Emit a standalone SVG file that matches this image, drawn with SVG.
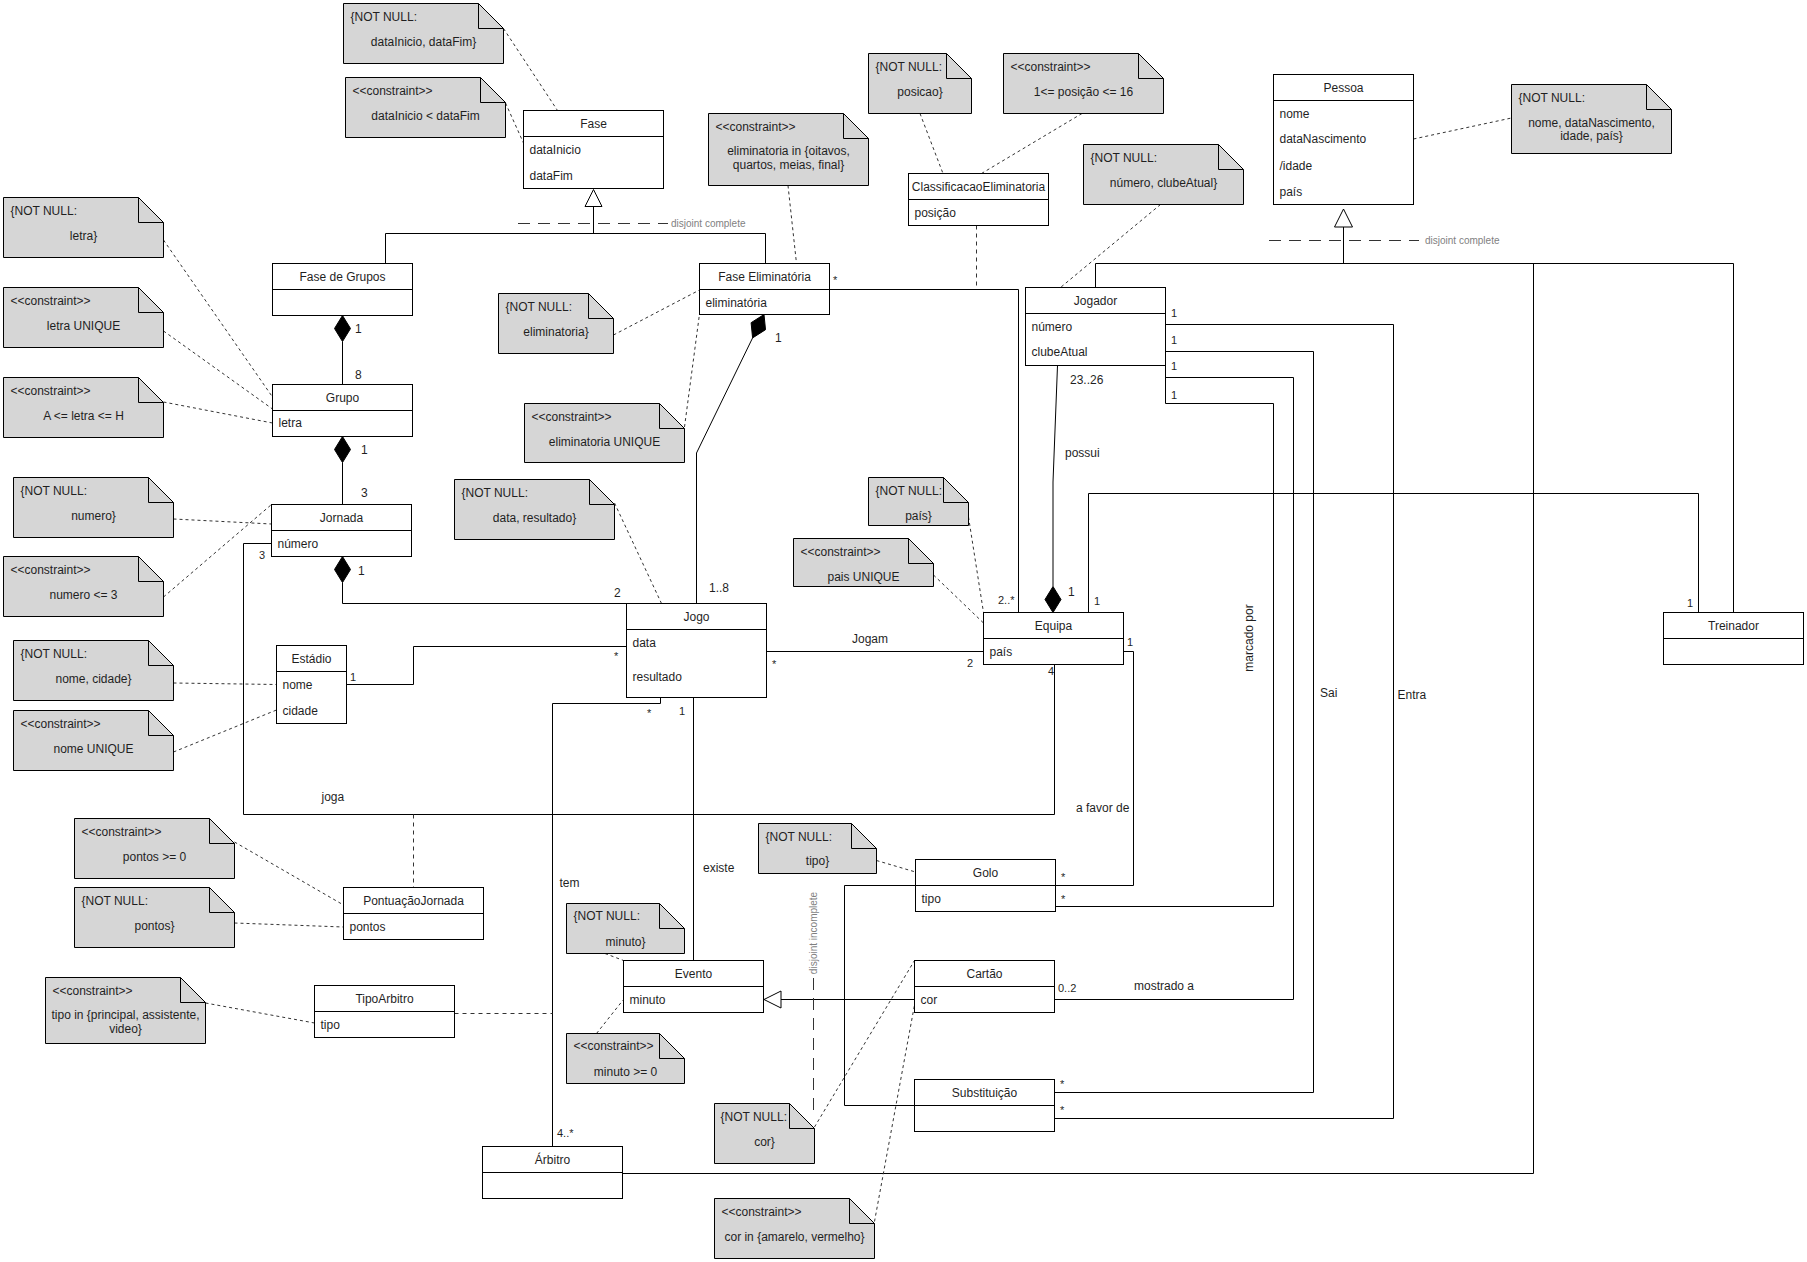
<svg xmlns="http://www.w3.org/2000/svg" width="1807" height="1262" viewBox="0 0 1807 1262">
<style>
text{font-family:"Liberation Sans",Arial,sans-serif;font-size:12px;fill:#1f1f1f}
.c{text-anchor:middle}
.s{font-size:11px}
.g{font-size:10px;fill:#7f7f7f}
.box{fill:#fff;stroke:#000;stroke-width:1}
.note{fill:#d6d6d6;stroke:#000;stroke-width:1}
.ln{fill:none;stroke:#000;stroke-width:1}
.dot{fill:none;stroke:#333;stroke-width:1;stroke-dasharray:3 3}
.dash{fill:none;stroke:#333;stroke-width:1;stroke-dasharray:4 4}
.gen{fill:none;stroke:#333;stroke-width:1;stroke-dasharray:12 8}
.hollow{fill:#fff;stroke:#000;stroke-width:1}
.solid{fill:#000;stroke:#000;stroke-width:1}
</style>
<rect x="0" y="0" width="1807" height="1262" fill="#fff"/>

<g id="connectors">
<path class="ln" d="M593.5 206.5 V233.5 M385.5 233.5 H765.5 M385.5 233.5 V263.5 M765.5 233.5 V263.5"/>
<polygon class="hollow" points="593.5,189.5 585,206.5 602,206.5"/>
<line class="gen" x1="518" y1="223.5" x2="668" y2="223.5"/>
<text class="g" x="671" y="226.5">disjoint complete</text>

<path class="ln" d="M342.5 341.5 V384.5"/>
<polygon class="solid" points="342.5,315.5 350.5,328.5 342.5,341.5 334.5,328.5"/>
<text x="355" y="333">1</text><text x="355" y="379">8</text>

<path class="ln" d="M342.5 462.5 V504.5"/>
<polygon class="solid" points="342.5,436.5 350.5,449.5 342.5,462.5 334.5,449.5"/>
<text x="361" y="454">1</text><text x="361" y="497">3</text>

<path class="ln" d="M342.5 582.5 V603.5 H626.5"/>
<polygon class="solid" points="342.5,556.5 350.5,569.5 342.5,582.5 334.5,569.5"/>
<text x="358" y="575">1</text><text x="614" y="597">2</text>

<path class="ln" d="M752.6 337.9 L696.5 453 V603.5"/>
<polygon class="solid" points="764,314.5 765.5,329.7 752.6,337.9 751.1,322.7"/>
<text x="775" y="342">1</text><text x="709" y="592">1..8</text>

<path class="ln" d="M346.5 684.5 H413.5 V646.5 H626.5"/>
<text class="s" x="350" y="681">1</text><text class="s" x="614" y="660">*</text>

<path class="ln" d="M271.5 543.5 H243.5 V814.5 H1054.5 V664.5"/>
<text class="s" x="259" y="559">3</text><text class="s" x="1048" y="675">4</text>
<text x="321.5" y="801">joga</text>

<path class="ln" d="M766.5 651.5 H983.5"/>
<text class="c" x="870" y="643">Jogam</text>
<text class="s" x="772" y="668">*</text><text class="s" x="967" y="667">2</text>

<path class="ln" d="M829.5 289.5 H1018.5 V612.5"/>
<path class="dash" d="M976.5 225.5 V289.5"/>
<text class="s" x="833" y="284">*</text><text class="s" x="998" y="604">2..*</text>

<path class="ln" d="M1057.5 365.5 L1053 482 V586.5"/>
<polygon class="solid" points="1053,586.5 1061,599.5 1053,612.5 1045,599.5"/>
<text x="1070" y="384">23..26</text><text x="1065" y="457">possui</text><text x="1068" y="596">1</text>

<path class="ln" d="M1088.5 612.5 V493.5 H1698.5 V612.5"/>
<text class="s" x="1094" y="605">1</text><text class="s" x="1687" y="607">1</text>

<path class="ln" d="M1343.5 227 V263.5 M1095.5 287.5 V263.5 H1733.5 V612.5 M1533.5 263.5 V1173.5 H622.5"/>
<polygon class="hollow" points="1343.5,209 1334.5,227 1352.5,227"/>
<line class="gen" x1="1269" y1="240.5" x2="1419" y2="240.5"/>
<text class="g" x="1425" y="244">disjoint complete</text>

<path class="ln" d="M1165.5 365.5 V403.5"/>
<path class="ln" d="M1165.5 324.5 H1393.5 V1118.5 H1054.5"/>
<path class="ln" d="M1165.5 351.5 H1313.5 V1092.5 H1054.5"/>
<path class="ln" d="M1165.5 377.5 H1293.5 V999.5 H1054.5"/>
<path class="ln" d="M1165.5 403.5 H1273.5 V906.5 H1055.5"/>
<text class="s" x="1171" y="317">1</text><text class="s" x="1171" y="344">1</text>
<text class="s" x="1171" y="370">1</text><text class="s" x="1171" y="399">1</text>
<text x="1397.5" y="699">Entra</text><text x="1320" y="697">Sai</text>
<text class="s" x="1060" y="1088">*</text><text class="s" x="1060" y="1114">*</text>
<text class="s" x="1058" y="992">0..2</text><text x="1134" y="990">mostrado a</text>
<text class="s" x="1061" y="903">*</text>
<text class="c" transform="translate(1252.5 638) rotate(-90)">marcado por</text>

<path class="ln" d="M1123.5 651.5 H1133.5 V885.5 H1055.5"/>
<text class="s" x="1127" y="646">1</text><text class="s" x="1061" y="881">*</text>
<text x="1076" y="812">a favor de</text>

<path class="ln" d="M660.5 697.5 V703.5 H552.5 V1146.5"/>
<path class="dash" d="M454.5 1013.5 H552.5"/>
<text class="s" x="647" y="717">*</text><text class="s" x="557" y="1137">4..*</text>
<text x="559.5" y="887">tem</text>

<path class="ln" d="M693.5 697.5 V960.5"/>
<text class="s" x="679" y="715">1</text><text x="703" y="872">existe</text>

<path class="ln" d="M781 999.5 H914.5 M844.5 885.5 V1105.5 M844.5 885.5 H915.5 M844.5 1105.5 H914.5"/>
<polygon class="hollow" points="764,999.5 781,991 781,1008"/>
<line class="gen" x1="813.5" y1="978" x2="813.5" y2="1110"/>
<text class="g c" transform="translate(816.5 933) rotate(-90)">disjoint incomplete</text>

<path class="dash" d="M413.5 814.5 V887.5"/>

<path class="dot" d="M503.5 28.5 L557.5 110.5"/>
<path class="dot" d="M505.5 103 L523.5 143"/>
<path class="dot" d="M163.5 240 L272.5 397"/>
<path class="dot" d="M163.5 331 L272.5 409"/>
<path class="dot" d="M163.5 402 L272.5 423"/>
<path class="dot" d="M173.5 519 L271.5 524"/>
<path class="dot" d="M163.5 597 L271.5 504.5"/>
<path class="dot" d="M173.5 683 L276.5 684.5"/>
<path class="dot" d="M173.5 752 L276.5 710"/>
<path class="dot" d="M234.5 842 L343.5 905"/>
<path class="dot" d="M234.5 923 L343.5 927"/>
<path class="dot" d="M205.5 1003 L314.5 1023"/>
<path class="dot" d="M613.5 335 L699.5 290"/>
<path class="dot" d="M684.5 427 L699.5 314"/>
<path class="dot" d="M614.5 503 L661.5 603.5"/>
<path class="dot" d="M788 185.5 L796.5 263.5"/>
<path class="dot" d="M920 113.5 L943 173.5"/>
<path class="dot" d="M1082 113.5 L981.5 173.5"/>
<path class="dot" d="M1160.5 204.5 L1060.5 287.5"/>
<path class="dot" d="M1413.5 139 L1511.5 118"/>
<path class="dot" d="M968.5 517 L983.5 612.5"/>
<path class="dot" d="M933.5 575 L983.5 623"/>
<path class="dot" d="M876.5 860.5 L915.5 872"/>
<path class="dot" d="M605 953.5 L623.5 960.5"/>
<path class="dot" d="M596.5 1033.5 L623.5 999.5"/>
<path class="dot" d="M814.5 1127 L914.5 960.5"/>
<path class="dot" d="M874.5 1221.5 L914.5 1005"/>
</g>

<g id="note-datas-notnull"><path class="note" d="M343.5 3.5 H478.5 L503.5 28.5 V63.5 H343.5 Z"/><path class="ln" d="M478.5 3.5 V28.5 H503.5"/><text x="350.5" y="20.5">{NOT NULL:</text><text class="c" x="423.5" y="45.5">dataInicio, dataFim}</text></g>
<g id="note-datas-constraint"><path class="note" d="M345.5 77.5 H480.5 L505.5 102.5 V137.5 H345.5 Z"/><path class="ln" d="M480.5 77.5 V102.5 H505.5"/><text x="352.5" y="94.5">&lt;&lt;constraint&gt;&gt;</text><text class="c" x="425.5" y="119.5">dataInicio &lt; dataFim</text></g>
<g id="note-letra-notnull"><path class="note" d="M3.5 197.5 H138.5 L163.5 222.5 V257.5 H3.5 Z"/><path class="ln" d="M138.5 197.5 V222.5 H163.5"/><text x="10.5" y="214.5">{NOT NULL:</text><text class="c" x="83.5" y="239.5">letra}</text></g>
<g id="note-letra-unique"><path class="note" d="M3.5 287.5 H138.5 L163.5 312.5 V347.5 H3.5 Z"/><path class="ln" d="M138.5 287.5 V312.5 H163.5"/><text x="10.5" y="304.5">&lt;&lt;constraint&gt;&gt;</text><text class="c" x="83.5" y="329.5">letra UNIQUE</text></g>
<g id="note-letra-range"><path class="note" d="M3.5 377.5 H138.5 L163.5 402.5 V437.5 H3.5 Z"/><path class="ln" d="M138.5 377.5 V402.5 H163.5"/><text x="10.5" y="394.5">&lt;&lt;constraint&gt;&gt;</text><text class="c" x="83.5" y="419.5">A &lt;= letra &lt;= H</text></g>
<g id="note-numero-notnull"><path class="note" d="M13.5 477.5 H148.5 L173.5 502.5 V537.5 H13.5 Z"/><path class="ln" d="M148.5 477.5 V502.5 H173.5"/><text x="20.5" y="494.5">{NOT NULL:</text><text class="c" x="93.5" y="519.5">numero}</text></g>
<g id="note-numero-range"><path class="note" d="M3.5 556.5 H138.5 L163.5 581.5 V616.5 H3.5 Z"/><path class="ln" d="M138.5 556.5 V581.5 H163.5"/><text x="10.5" y="573.5">&lt;&lt;constraint&gt;&gt;</text><text class="c" x="83.5" y="598.5">numero &lt;= 3</text></g>
<g id="note-estadio-notnull"><path class="note" d="M13.5 640.5 H148.5 L173.5 665.5 V700.5 H13.5 Z"/><path class="ln" d="M148.5 640.5 V665.5 H173.5"/><text x="20.5" y="657.5">{NOT NULL:</text><text class="c" x="93.5" y="682.5">nome, cidade}</text></g>
<g id="note-estadio-unique"><path class="note" d="M13.5 710.5 H148.5 L173.5 735.5 V770.5 H13.5 Z"/><path class="ln" d="M148.5 710.5 V735.5 H173.5"/><text x="20.5" y="727.5">&lt;&lt;constraint&gt;&gt;</text><text class="c" x="93.5" y="752.5">nome UNIQUE</text></g>
<g id="note-pontos-range"><path class="note" d="M74.5 818.5 H209.5 L234.5 843.5 V878.5 H74.5 Z"/><path class="ln" d="M209.5 818.5 V843.5 H234.5"/><text x="81.5" y="835.5">&lt;&lt;constraint&gt;&gt;</text><text class="c" x="154.5" y="860.5">pontos &gt;= 0</text></g>
<g id="note-pontos-notnull"><path class="note" d="M74.5 887.5 H209.5 L234.5 912.5 V947.5 H74.5 Z"/><path class="ln" d="M209.5 887.5 V912.5 H234.5"/><text x="81.5" y="904.5">{NOT NULL:</text><text class="c" x="154.5" y="929.5">pontos}</text></g>
<g id="note-tipoarbitro"><path class="note" d="M45.5 977.5 H180.5 L205.5 1002.5 V1043.5 H45.5 Z"/><path class="ln" d="M180.5 977.5 V1002.5 H205.5"/><text x="52.5" y="994.5">&lt;&lt;constraint&gt;&gt;</text><text class="c" x="125.5" y="1019">tipo in {principal, assistente,</text><text class="c" x="125.5" y="1033">video}</text></g>
<g id="note-elim-notnull"><path class="note" d="M498.5 293.5 H588.5 L613.5 318.5 V353.5 H498.5 Z"/><path class="ln" d="M588.5 293.5 V318.5 H613.5"/><text x="505.5" y="310.5">{NOT NULL:</text><text class="c" x="556" y="335.5">eliminatoria}</text></g>
<g id="note-elim-unique"><path class="note" d="M524.5 403.5 H659.5 L684.5 428.5 V462.5 H524.5 Z"/><path class="ln" d="M659.5 403.5 V428.5 H684.5"/><text x="531.5" y="420.5">&lt;&lt;constraint&gt;&gt;</text><text class="c" x="604.5" y="445.5">eliminatoria UNIQUE</text></g>
<g id="note-jogo-notnull"><path class="note" d="M454.5 479.5 H589.5 L614.5 504.5 V539.5 H454.5 Z"/><path class="ln" d="M589.5 479.5 V504.5 H614.5"/><text x="461.5" y="496.5">{NOT NULL:</text><text class="c" x="534.5" y="521.5">data, resultado}</text></g>
<g id="note-elim-in"><path class="note" d="M708.5 113.5 H843.5 L868.5 138.5 V185.5 H708.5 Z"/><path class="ln" d="M843.5 113.5 V138.5 H868.5"/><text x="715.5" y="130.5">&lt;&lt;constraint&gt;&gt;</text><text class="c" x="788.5" y="155">eliminatoria in {oitavos,</text><text class="c" x="788.5" y="169">quartos, meias, final}</text></g>
<g id="note-posicao-notnull"><path class="note" d="M868.5 53.5 H946.5 L971.5 78.5 V113.5 H868.5 Z"/><path class="ln" d="M946.5 53.5 V78.5 H971.5"/><text x="875.5" y="70.5">{NOT NULL:</text><text class="c" x="920" y="95.5">posicao}</text></g>
<g id="note-posicao-range"><path class="note" d="M1003.5 53.5 H1138.5 L1163.5 78.5 V113.5 H1003.5 Z"/><path class="ln" d="M1138.5 53.5 V78.5 H1163.5"/><text x="1010.5" y="70.5">&lt;&lt;constraint&gt;&gt;</text><text class="c" x="1083.5" y="95.5">1&lt;= posição &lt;= 16</text></g>
<g id="note-jogador-notnull"><path class="note" d="M1083.5 144.5 H1218.5 L1243.5 169.5 V204.5 H1083.5 Z"/><path class="ln" d="M1218.5 144.5 V169.5 H1243.5"/><text x="1090.5" y="161.5">{NOT NULL:</text><text class="c" x="1163.5" y="186.5">número, clubeAtual}</text></g>
<g id="note-pessoa-notnull"><path class="note" d="M1511.5 84.5 H1646.5 L1671.5 109.5 V153.5 H1511.5 Z"/><path class="ln" d="M1646.5 84.5 V109.5 H1671.5"/><text x="1518.5" y="101.5">{NOT NULL:</text><text class="c" x="1591.5" y="126.5">nome, dataNascimento,</text><text class="c" x="1591.5" y="140">idade, país}</text></g>
<g id="note-equipa-notnull"><path class="note" d="M868.5 477.5 H943.5 L968.5 502.5 V525.5 H868.5 Z"/><path class="ln" d="M943.5 477.5 V502.5 H968.5"/><text x="875.5" y="494.5">{NOT NULL:</text><text class="c" x="918.5" y="519.5">país}</text></g>
<g id="note-equipa-unique"><path class="note" d="M793.5 538.5 H908.5 L933.5 563.5 V586.5 H793.5 Z"/><path class="ln" d="M908.5 538.5 V563.5 H933.5"/><text x="800.5" y="555.5">&lt;&lt;constraint&gt;&gt;</text><text class="c" x="863.5" y="580.5">pais UNIQUE</text></g>
<g id="note-golo-notnull"><path class="note" d="M758.5 823.5 H851.5 L876.5 848.5 V873.5 H758.5 Z"/><path class="ln" d="M851.5 823.5 V848.5 H876.5"/><text x="765.5" y="840.5">{NOT NULL:</text><text class="c" x="817.5" y="865">tipo}</text></g>
<g id="note-minuto-notnull"><path class="note" d="M566.5 903.5 H659.5 L684.5 928.5 V953.5 H566.5 Z"/><path class="ln" d="M659.5 903.5 V928.5 H684.5"/><text x="573.5" y="920">{NOT NULL:</text><text class="c" x="625.5" y="946">minuto}</text></g>
<g id="note-minuto-range"><path class="note" d="M566.5 1033.5 H659.5 L684.5 1058.5 V1083.5 H566.5 Z"/><path class="ln" d="M659.5 1033.5 V1058.5 H684.5"/><text x="573.5" y="1050">&lt;&lt;constraint&gt;&gt;</text><text class="c" x="625.5" y="1076">minuto &gt;= 0</text></g>
<g id="note-cor-notnull"><path class="note" d="M714.5 1103.5 H789.5 L814.5 1128.5 V1163.5 H714.5 Z"/><path class="ln" d="M789.5 1103.5 V1128.5 H814.5"/><text x="720.5" y="1120.5">{NOT NULL:</text><text class="c" x="764.5" y="1145.5">cor}</text></g>
<g id="note-cor-in"><path class="note" d="M714.5 1198.5 H849.5 L874.5 1223.5 V1258.5 H714.5 Z"/><path class="ln" d="M849.5 1198.5 V1223.5 H874.5"/><text x="721.5" y="1215.5">&lt;&lt;constraint&gt;&gt;</text><text class="c" x="794.5" y="1240.5">cor in {amarelo, vermelho}</text></g>

<g id="fase"><rect class="box" x="523.5" y="110.5" width="140" height="78"/><line class="ln" x1="523.5" y1="136.5" x2="663.5" y2="136.5"/><text class="c" x="593.5" y="128">Fase</text><text x="529.5" y="154">dataInicio</text><text x="529.5" y="180">dataFim</text></g>
<g id="fase-de-grupos"><rect class="box" x="272.5" y="263.5" width="140" height="52"/><line class="ln" x1="272.5" y1="289.5" x2="412.5" y2="289.5"/><text class="c" x="342.5" y="281">Fase de Grupos</text></g>
<g id="grupo"><rect class="box" x="272.5" y="384.5" width="140" height="52"/><line class="ln" x1="272.5" y1="410.5" x2="412.5" y2="410.5"/><text class="c" x="342.5" y="402">Grupo</text><text x="278.5" y="427">letra</text></g>
<g id="jornada"><rect class="box" x="271.5" y="504.5" width="140" height="52"/><line class="ln" x1="271.5" y1="530.5" x2="411.5" y2="530.5"/><text class="c" x="341.5" y="522">Jornada</text><text x="277.5" y="548">número</text></g>
<g id="estadio"><rect class="box" x="276.5" y="645.5" width="70" height="78"/><line class="ln" x1="276.5" y1="671.5" x2="346.5" y2="671.5"/><text class="c" x="311.5" y="663">Estádio</text><text x="282.5" y="689">nome</text><text x="282.5" y="715">cidade</text></g>
<g id="jogo"><rect class="box" x="626.5" y="603.5" width="140" height="94"/><line class="ln" x1="626.5" y1="629.5" x2="766.5" y2="629.5"/><text class="c" x="696.5" y="621">Jogo</text><text x="632.5" y="647">data</text><text x="632.5" y="681">resultado</text></g>
<g id="fase-eliminatoria"><rect class="box" x="699.5" y="263.5" width="130" height="51"/><line class="ln" x1="699.5" y1="289.5" x2="829.5" y2="289.5"/><text class="c" x="764.5" y="281">Fase Eliminatória</text><text x="705.5" y="307">eliminatória</text></g>
<g id="classificacao-eliminatoria"><rect class="box" x="908.5" y="173.5" width="140" height="52"/><line class="ln" x1="908.5" y1="199.5" x2="1048.5" y2="199.5"/><text class="c" x="978.5" y="191">ClassificacaoEliminatoria</text><text x="914.5" y="217">posição</text></g>
<g id="jogador"><rect class="box" x="1025.5" y="287.5" width="140" height="78"/><line class="ln" x1="1025.5" y1="313.5" x2="1165.5" y2="313.5"/><text class="c" x="1095.5" y="305">Jogador</text><text x="1031.5" y="331">número</text><text x="1031.5" y="356">clubeAtual</text></g>
<g id="pessoa"><rect class="box" x="1273.5" y="74.5" width="140" height="130"/><line class="ln" x1="1273.5" y1="100.5" x2="1413.5" y2="100.5"/><text class="c" x="1343.5" y="92">Pessoa</text><text x="1279.5" y="118">nome</text><text x="1279.5" y="143">dataNascimento</text><text x="1279.5" y="170">/idade</text><text x="1279.5" y="196">país</text></g>
<g id="equipa"><rect class="box" x="983.5" y="612.5" width="140" height="52"/><line class="ln" x1="983.5" y1="638.5" x2="1123.5" y2="638.5"/><text class="c" x="1053.5" y="630">Equipa</text><text x="989.5" y="656">país</text></g>
<g id="treinador"><rect class="box" x="1663.5" y="612.5" width="140" height="52"/><line class="ln" x1="1663.5" y1="638.5" x2="1803.5" y2="638.5"/><text class="c" x="1733.5" y="630">Treinador</text></g>
<g id="golo"><rect class="box" x="915.5" y="859.5" width="140" height="52"/><line class="ln" x1="915.5" y1="885.5" x2="1055.5" y2="885.5"/><text class="c" x="985.5" y="877">Golo</text><text x="921.5" y="903">tipo</text></g>
<g id="cartao"><rect class="box" x="914.5" y="960.5" width="140" height="52"/><line class="ln" x1="914.5" y1="986.5" x2="1054.5" y2="986.5"/><text class="c" x="984.5" y="978">Cartão</text><text x="920.5" y="1004">cor</text></g>
<g id="substituicao"><rect class="box" x="914.5" y="1079.5" width="140" height="52"/><line class="ln" x1="914.5" y1="1105.5" x2="1054.5" y2="1105.5"/><text class="c" x="984.5" y="1097">Substituição</text></g>
<g id="evento"><rect class="box" x="623.5" y="960.5" width="140" height="52"/><line class="ln" x1="623.5" y1="986.5" x2="763.5" y2="986.5"/><text class="c" x="693.5" y="978">Evento</text><text x="629.5" y="1004">minuto</text></g>
<g id="arbitro"><rect class="box" x="482.5" y="1146.5" width="140" height="52"/><line class="ln" x1="482.5" y1="1172.5" x2="622.5" y2="1172.5"/><text class="c" x="552.5" y="1164">Árbitro</text></g>
<g id="tipo-arbitro"><rect class="box" x="314.5" y="985.5" width="140" height="52"/><line class="ln" x1="314.5" y1="1011.5" x2="454.5" y2="1011.5"/><text class="c" x="384.5" y="1003">TipoArbitro</text><text x="320.5" y="1029">tipo</text></g>
<g id="pontuacao-jornada"><rect class="box" x="343.5" y="887.5" width="140" height="52"/><line class="ln" x1="343.5" y1="913.5" x2="483.5" y2="913.5"/><text class="c" x="413.5" y="905">PontuaçãoJornada</text><text x="349.5" y="931">pontos</text></g>
</svg>
